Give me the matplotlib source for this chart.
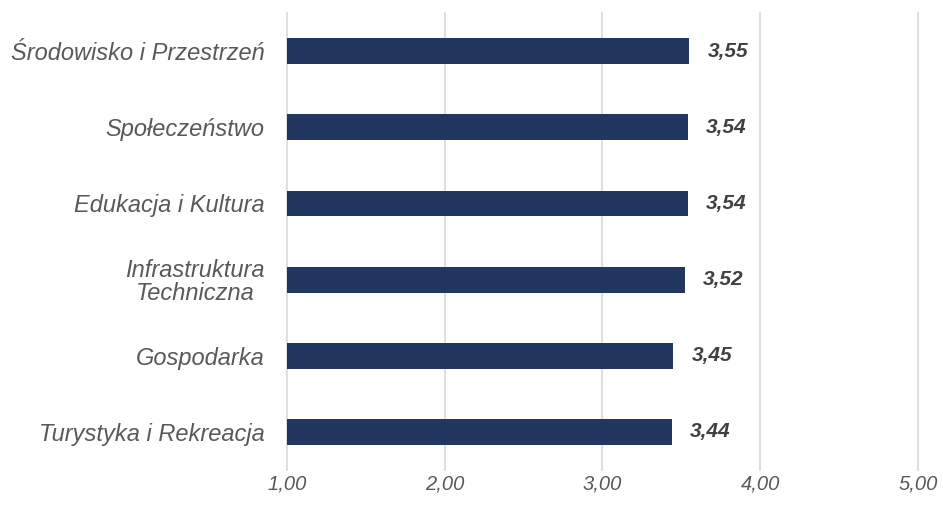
import matplotlib.pyplot as plt

plt.rcParams['font.family'] = ['Liberation Sans', 'DejaVu Sans']

# dane
categories = ['Środowisko i Przestrzeń', 'Społeczeństwo', 'Edukacja i Kultura',
              'Infrastruktura\nTechniczna', 'Gospodarka', 'Turystyka i Rekreacja']
values = [3.55, 3.54, 3.54, 3.52, 3.45, 3.44]
ticks = [1, 2, 3, 4, 5]
tick_labels = ['1,00', '2,00', '3,00', '4,00', '5,00']

fig = plt.figure(figsize=(9.43, 5.05), dpi=100)
ax = fig.add_axes([0.3043, 0.0693, 0.6692, 0.9047])

y = list(range(len(categories)))
ax.barh(y, [v - 1 for v in values], left=1, height=0.34, color='#21375f', zorder=3)

for yi, v in zip(y, values):
    ax.text(v + 0.115, yi, f'{v:.2f}'.replace('.', ','), va='center', ha='left',
            fontsize=15, fontweight='bold', fontstyle='italic', color='#404040')

ax.set_xlim(1, 5)
ax.set_ylim(len(categories) - 0.5, -0.5)
ax.set_yticks(y)
ax.set_yticklabels(categories, fontsize=17, fontstyle='italic', color='#595959',
                   multialignment='center')
for t in ax.get_yticklabels():
    t.set_linespacing(1.0)
ax.set_xticks(ticks)
ax.set_xticklabels(tick_labels, fontsize=14.5, fontstyle='italic', color='#595959')
ax.tick_params(axis='y', length=0, pad=16)
ax.tick_params(axis='x', length=0, pad=3)

ax.xaxis.grid(True, color='#d9d9d9', linewidth=1.2, zorder=0)
for gl in ax.get_xgridlines():
    gl.set_clip_on(False)
for s in ax.spines.values():
    s.set_visible(False)
ax.set_axisbelow(True)

fig.savefig('out.png', dpi=100)
